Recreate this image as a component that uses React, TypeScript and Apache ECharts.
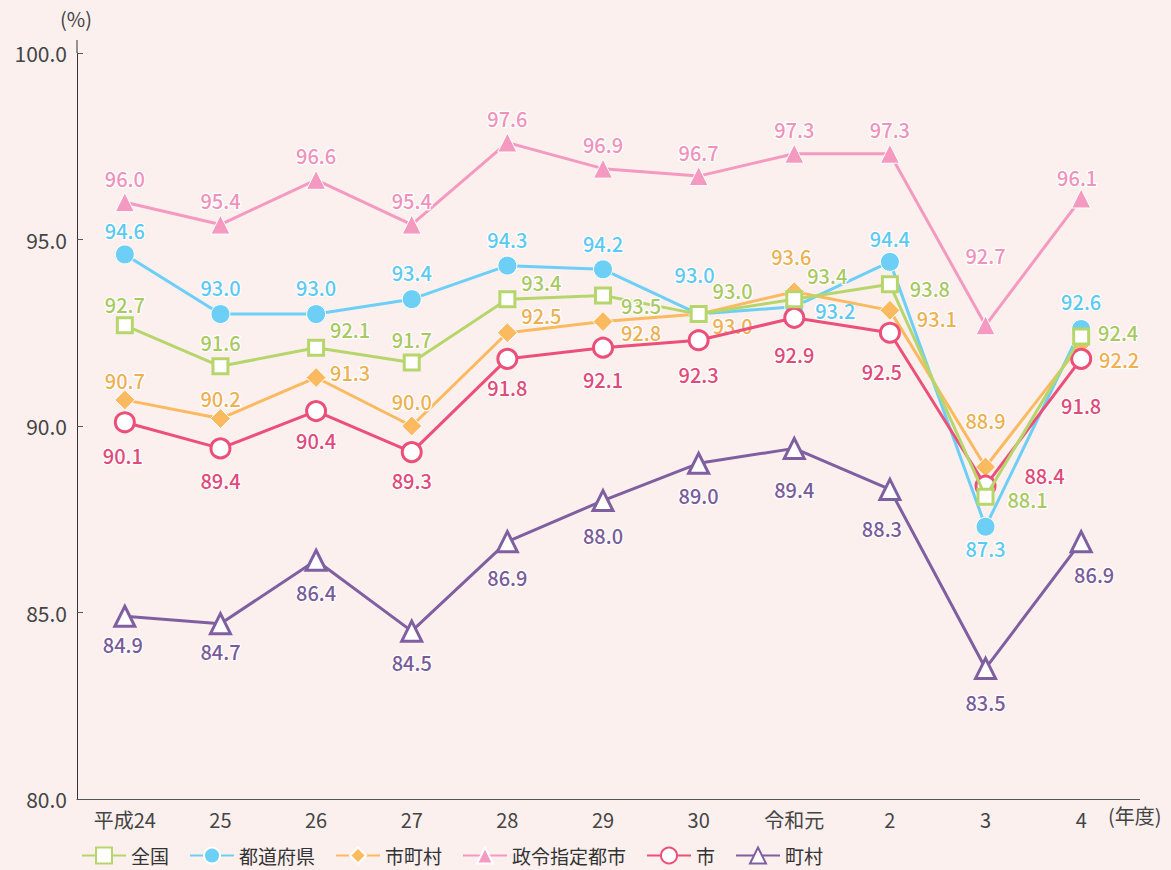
import React, { useEffect, useRef } from "react";
import * as echarts from "echarts";

const categories = ["平成24", "25", "26", "27", "28", "29", "30", "令和元", "2", "3", "4"];
const yTicks = [80, 85, 90, 95, 100];

const zenkoku = [92.7, 91.6, 92.1, 91.7, 93.4, 93.5, 93.0, 93.4, 93.8, 88.1, 92.4];
const todofuken = [94.6, 93.0, 93.0, 93.4, 94.3, 94.2, 93.0, 93.2, 94.4, 87.3, 92.6];
const shichoson = [90.7, 90.2, 91.3, 90.0, 92.5, 92.8, 93.0, 93.6, 93.1, 88.9, 92.2];
const seirei = [96.0, 95.4, 96.6, 95.4, 97.6, 96.9, 96.7, 97.3, 97.3, 92.7, 96.1];
const shi = [90.1, 89.4, 90.4, 89.3, 91.8, 92.1, 92.3, 92.9, 92.5, 88.4, 91.8];
const choson = [84.9, 84.7, 86.4, 84.5, 86.9, 88.0, 89.0, 89.4, 88.3, 83.5, 86.9];

// label offsets (label centre relative to point), layout only
const offZenkoku = [[0, -21], [0, -24], [34, -18], [0, -23], [34, -17], [38, 10], [34, -24], [33, -24], [40, 4], [42, 3], [37, -4]];
const offTodofuken = [[0, -24], [0, -27], [0, -27], [0, -27], [0, -26], [0, -26], [-4, -40], [41, 4], [0, -23], [0, 22], [0, -28]];
const offShichoson = [[0, -19], [0, -20], [34, -5], [0, -25], [34, -17], [38, 11], [34, 11], [-3, -35], [47, 8], [0, -47], [38, 16]];
const offSeirei = [[0, -24], [0, -24], [0, -24], [0, -24], [0, -24], [0, -24], [0, -24], [0, -24], [0, -24], [0, -70], [-4, -21]];
const offShi = [[-2, 33], [0, 32], [0, 29], [0, 28], [0, 29], [0, 32], [0, 34], [0, 37], [-8, 39], [59, -10], [0, 47]];
const offChoson = [[-2, 28], [0, 28], [0, 32], [0, 31], [0, 36], [0, 35], [0, 32], [0, 41], [-8, 39], [0, 34], [13, 33]];

const FONT = "'Noto Sans CJK JP', 'Noto Sans', sans-serif";

function makeSeries(
  name: string,
  values: number[],
  offsets: number[][],
  color: string,
  labelColor: string,
  symbol: string,
  symbolSize: number,
  hollow: boolean,
  z: number
) {
  return {
    name,
    type: "line",
    z,
    symbol,
    symbolSize,
    showAllSymbol: true,
    lineStyle: { color, width: 3 },
    itemStyle: hollow
      ? { color: "#ffffff", borderColor: color, borderWidth: 3 }
      : { color, borderColor: "#ffffff", borderWidth: 1 },
    data: values.map((v, i) => ({
      value: v,
      label: {
        show: true,
        position: "inside",
        offset: offsets[i],
        formatter: () => v.toFixed(1),
        color: labelColor,
        fontSize: 20,
        fontFamily: FONT,
        fontWeight: 500,
        textBorderColor: "#ffffff",
        textBorderWidth: 2.5,
      },
    })),
  };
}

export default function App() {
  const ref = useRef<HTMLDivElement>(null);
  useEffect(() => {
    if (!ref.current) return;
    const chart = echarts.init(ref.current, undefined, { renderer: "svg" });
    const gridLeft = 77;
    const gridRight = 1129;
    const gridTop = 53;
    const gridBottom = 799;
    chart.setOption({
      animation: false,
      backgroundColor: "#fcf0ef",
      textStyle: { fontFamily: FONT },
      grid: { left: gridLeft, right: 1171 - gridRight, top: gridTop, bottom: 870 - gridBottom, containLabel: false },
      xAxis: {
        type: "category",
        data: categories,
        boundaryGap: true,
        axisLine: { lineStyle: { color: "#555", width: 1 } },
        axisTick: { inside: true, length: 10, alignWithLabel: true, lineStyle: { color: "#555" } },
        axisLabel: { color: "#444", fontSize: 20, margin: 10, fontFamily: FONT },
      },
      yAxis: {
        type: "value",
        min: yTicks[0],
        max: yTicks[yTicks.length - 1],
        interval: 5,
        axisLine: { show: true, lineStyle: { color: "#333", width: 1 } },
        axisTick: { show: true, inside: true, length: 6, lineStyle: { color: "#555" } },
        splitLine: { show: false },
        axisLabel: { color: "#444", fontSize: 21, margin: 10, fontFamily: FONT, formatter: (v: number) => v.toFixed(1) },
      },
      legend: {
        left: 76,
        top: 841,
        itemWidth: 44,
        itemHeight: 20,
        itemGap: 20,
        textStyle: { color: "#333", fontSize: 19, fontFamily: FONT },
        data: ["全国", "都道府県", "市町村", "政令指定都市", "市", "町村"],
      },
      graphic: [
        { type: "line", shape: { x1: gridLeft, y1: 40, x2: gridLeft, y2: gridTop }, style: { stroke: "#333", lineWidth: 1 } },
        { type: "line", shape: { x1: gridRight, y1: gridBottom + 0.5, x2: 1140, y2: gridBottom + 0.5 }, style: { stroke: "#555", lineWidth: 1 } },
        { type: "text", left: 60, top: 8, style: { text: "(%)", fontSize: 20, fill: "#444", fontFamily: FONT } },
        { type: "text", left: 1108, top: 805, style: { text: "(年度)", fontSize: 20, fill: "#444", fontFamily: FONT } },
      ],
      series: [
        makeSeries("全国", zenkoku, offZenkoku, "#b6d66c", "#a9c862", "rect", 15, true, 6),
        makeSeries("都道府県", todofuken, offTodofuken, "#6dcff6", "#5cc9f2", "circle", 19, false, 3),
        makeSeries("市町村", shichoson, offShichoson, "#fbb960", "#eeb052", "diamond", 20, false, 4),
        makeSeries("政令指定都市", seirei, offSeirei, "#f49ac1", "#ef93bb", "triangle", 19, false, 2),
        makeSeries("市", shi, offShi, "#ec4f79", "#e04a7a", "circle", 19, true, 5),
        makeSeries("町村", choson, offChoson, "#7f5fa0", "#7a5b9a", "triangle", 20, true, 1),
      ],
    });
    return () => chart.dispose();
  }, []);
  return <div ref={ref} style={{ position: "absolute", left: 0, top: 0, width: 1171, height: 870 }} />;
}
